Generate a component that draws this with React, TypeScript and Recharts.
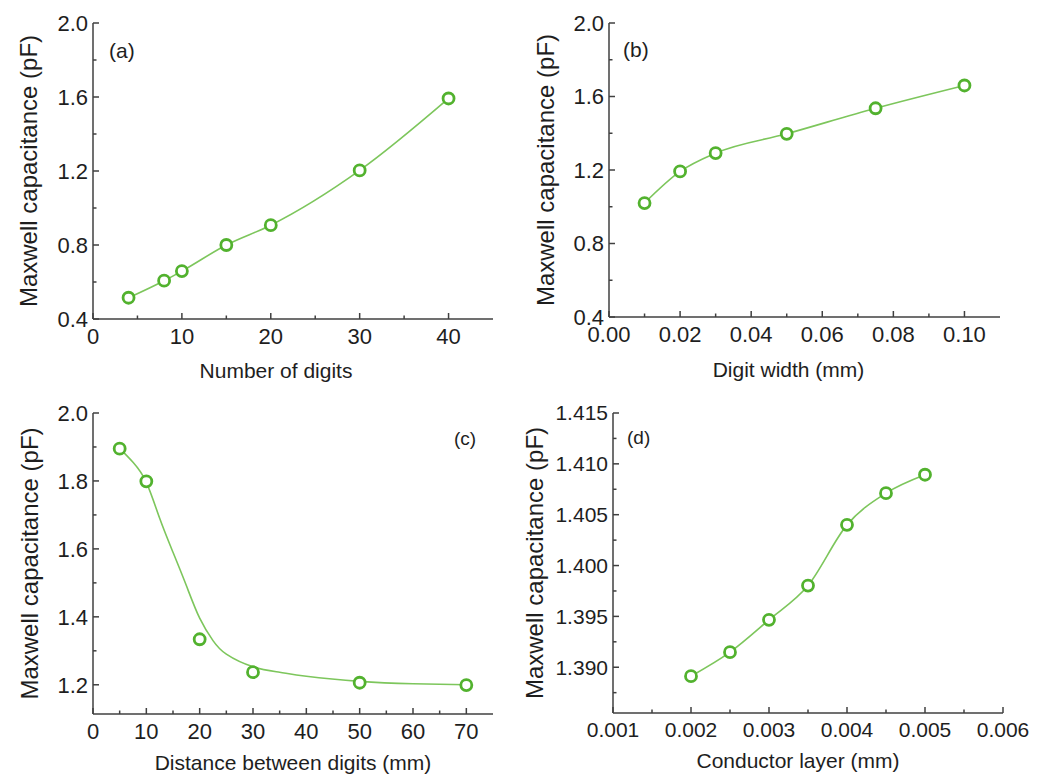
import React from "react";
import { Line, LineChart, XAxis, YAxis } from "recharts";

// (a) number of digits
const digitCounts = [4, 8, 10, 15, 20, 30, 40];
const capByDigits = [0.515, 0.607, 0.659, 0.8, 0.907, 1.203, 1.592];

// (b) digit width
const digitWidths = [0.01, 0.02, 0.03, 0.05, 0.075, 0.1];
const capByWidth = [1.02, 1.192, 1.292, 1.397, 1.536, 1.66];

// (c) distance between digits, measured points + fitted curve
const digitGaps = [5, 10, 20, 30, 50, 70];
const capByGap = [1.895, 1.799, 1.334, 1.237, 1.206, 1.199];
const gapFitX = [5, 7.5, 10, 12.5, 15, 17.5, 20, 22.5, 25, 30, 35, 40, 50, 60, 70];
const gapFitY = [1.896, 1.855, 1.796, 1.69, 1.59, 1.492, 1.396, 1.33, 1.29, 1.253, 1.237, 1.225, 1.21, 1.203, 1.2];

// (d) conductor layer
const layerThickness = [0.002, 0.0025, 0.003, 0.0035, 0.004, 0.0045, 0.005];
const capByLayer = [1.38912, 1.39148, 1.39466, 1.39803, 1.404, 1.40712, 1.40893];

// ticks (majors get labels, the rest are minor marks)
const ticksYab = [0.4, 0.6, 0.8, 1.0, 1.2, 1.4, 1.6, 1.8, 2.0];
const majorsYab = [0.4, 0.8, 1.2, 1.6, 2.0];
const ticksXa = [0, 5, 10, 15, 20, 25, 30, 35, 40];
const majorsXa = [0, 10, 20, 30, 40];
const ticksXb = [0, 0.01, 0.02, 0.03, 0.04, 0.05, 0.06, 0.07, 0.08, 0.09, 0.1];
const majorsXb = [0, 0.02, 0.04, 0.06, 0.08, 0.1];
const ticksYc = [1.2, 1.3, 1.4, 1.5, 1.6, 1.7, 1.8, 1.9, 2.0];
const majorsYc = [1.2, 1.4, 1.6, 1.8, 2.0];
const ticksXc = [0, 5, 10, 15, 20, 25, 30, 35, 40, 45, 50, 55, 60, 65, 70];
const majorsXc = [0, 10, 20, 30, 40, 50, 60, 70];
const ticksYd = [1.3875, 1.39, 1.3925, 1.395, 1.3975, 1.4, 1.4025, 1.405, 1.4075, 1.41, 1.4125, 1.415];
const majorsYd = [1.39, 1.395, 1.4, 1.405, 1.41, 1.415];
const ticksXd = [0.001, 0.0015, 0.002, 0.0025, 0.003, 0.0035, 0.004, 0.0045, 0.005, 0.0055, 0.006];
const majorsXd = [0.001, 0.002, 0.003, 0.004, 0.005, 0.006];

const FONT = '"Liberation Sans", Arial, Helvetica, sans-serif';
const AXIS = "#404040";
const TEXT = "#1e1e1e";
const LINE_GREEN = "#7dc65c";
const DOT_GREEN = "#52b22e";
const X_MARGIN = 9;
const Y_MARGIN = 5;

const isMajor = (v: number, majors: number[]) => majors.some((m) => Math.abs(m - v) < 1e-9);

function xTick(majors: number[], fmt: (v: number) => string, size: number) {
	return (props: any) => {
		const { x, y, payload } = props;
		const major = isMajor(payload.value, majors);
		const axisY = y - X_MARGIN;
		return (
			<g>
				<line x1={x} x2={x} y1={axisY} y2={axisY - (major ? 6 : 3.5)} stroke={AXIS} strokeWidth={1.5} />
				{major && (
					<text x={x} y={y} dy="0.71em" textAnchor="middle" fontSize={size} fill={TEXT} fontFamily={FONT}>
						{fmt(payload.value)}
					</text>
				)}
			</g>
		);
	};
}

function yTick(majors: number[], fmt: (v: number) => string, size: number) {
	return (props: any) => {
		const { x, y, payload } = props;
		const major = isMajor(payload.value, majors);
		const axisX = x + Y_MARGIN;
		return (
			<g>
				<line x1={axisX} x2={axisX + (major ? 6 : 3.5)} y1={y} y2={y} stroke={AXIS} strokeWidth={1.5} />
				{major && (
					<text x={x} y={y} dy="0.355em" textAnchor="end" fontSize={size} fill={TEXT} fontFamily={FONT}>
						{fmt(payload.value)}
					</text>
				)}
			</g>
		);
	};
}

const toRows = (xs: number[], ys: number[]) => xs.map((x, i) => ({ x, y: ys[i] }));

const dotStyle = { r: 5.5, stroke: DOT_GREEN, strokeWidth: 2.8, fill: "#fff" };

interface PanelProps {
	left: number;
	top: number;
	width: number;
	height: number;
	margin: { top: number; right: number; bottom: number; left: number };
	yAxisWidth: number;
	xAxisHeight: number;
	xDomain: [number, number];
	yDomain: [number, number];
	xTicks: number[];
	xMajors: number[];
	xFmt: (v: number) => string;
	yTicks: number[];
	yMajors: number[];
	yFmt: (v: number) => string;
	tickSize: number;
	xTitle: string;
	xTitleOffset: number;
	xTitleDx: number;
	yTitleOffset: number;
	tag: string;
	tagLeft: number;
	tagTop: number;
	tagSize: number;
	points: { x: number; y: number }[];
	fit?: { x: number; y: number }[];
}

function Panel(p: PanelProps) {
	return (
		<div style={{ position: "absolute", left: p.left, top: p.top, width: p.width, height: p.height }}>
			<LineChart width={p.width} height={p.height} margin={p.margin}>
				<XAxis
					type="number"
					dataKey="x"
					domain={p.xDomain}
					ticks={p.xTicks}
					interval={0}
					allowDataOverflow
					height={p.xAxisHeight}
					tickSize={0}
					tickMargin={X_MARGIN}
					tickLine={false}
					axisLine={{ stroke: AXIS, strokeWidth: 1.5 }}
					tick={xTick(p.xMajors, p.xFmt, p.tickSize)}
					label={{
						value: p.xTitle,
						position: "insideBottom",
						offset: p.xTitleOffset,
						dx: p.xTitleDx,
						style: { fontSize: 21, fill: TEXT, fontFamily: FONT },
					}}
				/>
				<XAxis
					xAxisId="top"
					orientation="top"
					type="number"
					domain={p.xDomain}
					height={0}
					tick={false}
					tickLine={false}
					axisLine={{ stroke: AXIS, strokeWidth: 1.5 }}
				/>
				<YAxis
					type="number"
					domain={p.yDomain}
					ticks={p.yTicks}
					interval={0}
					allowDataOverflow
					width={p.yAxisWidth}
					tickSize={0}
					tickMargin={Y_MARGIN}
					tickLine={false}
					axisLine={{ stroke: AXIS, strokeWidth: 1.5 }}
					tick={yTick(p.yMajors, p.yFmt, p.tickSize)}
					label={{
						value: "Maxwell capacitance (pF)",
						angle: -90,
						position: "insideLeft",
						offset: p.yTitleOffset,
						style: { textAnchor: "middle", fontSize: 24, fill: TEXT, fontFamily: FONT },
					}}
				/>
				<YAxis
					yAxisId="right"
					orientation="right"
					type="number"
					domain={p.yDomain}
					width={0}
					tick={false}
					tickLine={false}
					axisLine={{ stroke: AXIS, strokeWidth: 1.5 }}
				/>
				{p.fit && (
					<Line
						data={p.fit}
						dataKey="y"
						type="natural"
						stroke={LINE_GREEN}
						strokeWidth={1.6}
						dot={false}
						isAnimationActive={false}
					/>
				)}
				<Line
					data={p.points}
					dataKey="y"
					type="monotone"
					stroke={p.fit ? "none" : LINE_GREEN}
					strokeWidth={1.6}
					dot={dotStyle}
					activeDot={false}
					isAnimationActive={false}
				/>
			</LineChart>
			<div
				style={{
					position: "absolute",
					left: p.tagLeft,
					top: p.tagTop,
					fontSize: p.tagSize,
					lineHeight: `${p.tagSize}px`,
					fontFamily: FONT,
					color: TEXT,
				}}
			>
				{p.tag}
			</div>
		</div>
	);
}

export default function App() {
	return (
		<div style={{ position: "absolute", left: 0, top: 0, width: 1053, height: 774, background: "#fff" }}>
			<Panel
				left={0}
				top={0}
				width={520}
				height={390}
				margin={{ top: 23, right: 27, bottom: 0, left: 0 }}
				yAxisWidth={93}
				xAxisHeight={71}
				xDomain={[0, 45]}
				yDomain={[0.4, 2.0]}
				xTicks={ticksXa}
				xMajors={majorsXa}
				xFmt={(v) => String(v)}
				yTicks={ticksYab}
				yMajors={majorsYab}
				yFmt={(v) => v.toFixed(1)}
				tickSize={22}
				xTitle="Number of digits"
				xTitleOffset={12}
				xTitleDx={-17}
				yTitleOffset={28}
				tag="(a)"
				tagLeft={109}
				tagTop={40}
				tagSize={21}
				points={toRows(digitCounts, capByDigits)}
			/>
			<Panel
				left={520}
				top={0}
				width={533}
				height={390}
				margin={{ top: 23, right: 53, bottom: 0, left: 0 }}
				yAxisWidth={89}
				xAxisHeight={73}
				xDomain={[0, 0.11]}
				yDomain={[0.4, 2.0]}
				xTicks={ticksXb}
				xMajors={majorsXb}
				xFmt={(v) => v.toFixed(2)}
				yTicks={ticksYab}
				yMajors={majorsYab}
				yFmt={(v) => v.toFixed(1)}
				tickSize={22}
				xTitle="Digit width (mm)"
				xTitleOffset={13}
				xTitleDx={-16}
				yTitleOffset={25}
				tag="(b)"
				tagLeft={103}
				tagTop={39}
				tagSize={21}
				points={toRows(digitWidths, capByWidth)}
			/>
			<Panel
				left={0}
				top={390}
				width={520}
				height={384}
				margin={{ top: 23, right: 27, bottom: 0, left: 0 }}
				yAxisWidth={93}
				xAxisHeight={60}
				xDomain={[0, 75]}
				yDomain={[1.114, 2.0]}
				xTicks={ticksXc}
				xMajors={majorsXc}
				xFmt={(v) => String(v)}
				yTicks={ticksYc}
				yMajors={majorsYc}
				yFmt={(v) => v.toFixed(1)}
				tickSize={22}
				xTitle="Distance between digits (mm)"
				xTitleOffset={4}
				xTitleDx={0}
				yTitleOffset={29}
				tag="(c)"
				tagLeft={454}
				tagTop={39}
				tagSize={19}
				points={toRows(digitGaps, capByGap)}
				fit={toRows(gapFitX, gapFitY)}
			/>
			<Panel
				left={520}
				top={390}
				width={533}
				height={384}
				margin={{ top: 23, right: 50, bottom: 0, left: 0 }}
				yAxisWidth={93}
				xAxisHeight={61}
				xDomain={[0.001, 0.006]}
				yDomain={[1.3855, 1.415]}
				xTicks={ticksXd}
				xMajors={majorsXd}
				xFmt={(v) => v.toFixed(3)}
				yTicks={ticksYd}
				yMajors={majorsYd}
				yFmt={(v) => v.toFixed(3)}
				tickSize={21}
				xTitle="Conductor layer (mm)"
				xTitleOffset={6}
				xTitleDx={-10}
				yTitleOffset={14}
				tag="(d)"
				tagLeft={107}
				tagTop={38}
				tagSize={19}
				points={toRows(layerThickness, capByLayer)}
			/>
		</div>
	);
}
